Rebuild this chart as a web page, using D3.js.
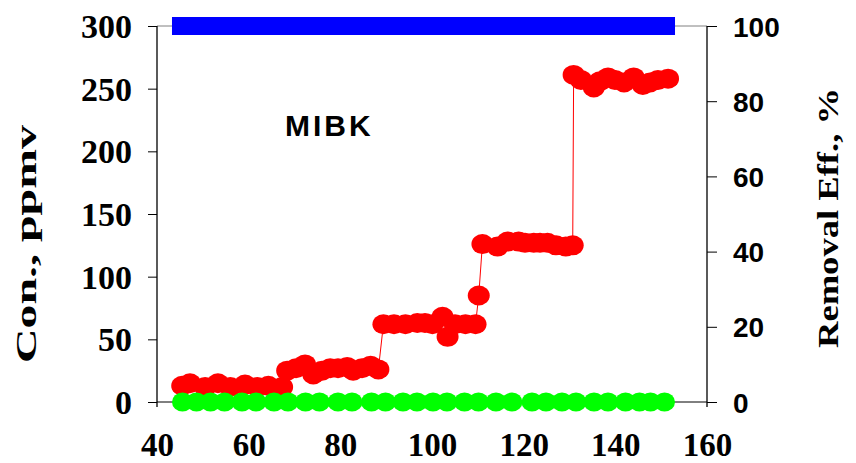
<!DOCTYPE html>
<html>
<head>
<meta charset="utf-8">
<script src="https://cdn.jsdelivr.net/npm/d3@7"></script>
<style>
  html, body { margin: 0; padding: 0; background: #fff; }
</style>
</head>
<body>
<div id="chart"></div>
<script>
// MIBK inlet / outlet concentration and removal efficiency

// inlet concentration (ppmv), red
const inletX = [45.5, 47.2, 50.5, 53.3, 56.0, 59.2, 61.9, 64.3, 67.3,
  68.4, 70.33, 72.3, 74.1, 76.0, 77.8, 79.49, 81.5, 82.8, 84.73, 86.6, 88.3,
  89.4, 91.71, 94.2, 96.8, 98.47, 100.1, 102.3, 103.4, 105.02, 107.3, 109.5, 110.2,
  111.0, 114.3, 116.5, 118.9, 120.29, 122.2, 123.56, 125.2, 127.05, 129.2, 130.7,
  130.9, 132.5, 135.3, 136.65, 138.4, 139.93, 141.9, 144.0, 146.0, 147.56, 149.3, 151.5];
const inletY = [13, 15, 12, 15, 12, 14, 12, 13, 12,
  25, 27, 30, 22, 25, 27, 27, 28, 25, 27, 29, 26,
  62, 62, 62, 63, 63, 62, 68, 52, 62, 62, 62, 85,
  126, 124, 128, 128, 127, 127, 127, 127, 125, 124, 125,
  261, 257, 251, 256, 259, 257, 255, 259, 253, 255, 257, 258];

// outlet concentration (ppmv), green
const outletX = [45.56, 48.62, 51.67, 54.73, 58.55, 61.6, 65.53, 68.58, 72.4, 75.45,
  79.49, 82.55, 86.8, 89.85, 93.67, 96.73, 100.22, 103.27, 107.09, 110.15,
  113.96, 117.45, 121.82, 124.87, 128.36, 131.42, 135.35, 138.4, 142.22, 145.27, 147.67, 150.73];
const outletY = [0, 0, 0, 0, 0, 0, 0, 0, 0, 0,
  0, 0, 0, 0, 0, 0, 0, 0, 0, 0,
  0, 0, 0, 0, 0, 0, 0, 0, 0, 0, 0, 0];

// removal efficiency (%), blue
const effX = outletX.slice();
const effY = [100, 100, 100, 100, 100, 100, 100, 100, 100, 100,
  100, 100, 100, 100, 100, 100, 100, 100, 100, 100,
  100, 100, 100, 100, 100, 100, 100, 100, 100, 100, 100, 100];

const xTicks = [40, 60, 80, 100, 120, 140, 160];
const yLeftTicks = [0, 50, 100, 150, 200, 250, 300];
const yRightTicks = [0, 20, 40, 60, 80, 100];

const serif = "'Liberation Serif', 'Times New Roman', serif";
const sans = "'Liberation Sans', Arial, sans-serif";

const W = 856, H = 463;
const margin = { top: 26, right: 149, bottom: 61, left: 157 };
const w = W - margin.left - margin.right;
const h = H - margin.top - margin.bottom;

const svg = d3.select('#chart').append('svg')
  .attr('width', W)
  .attr('height', H)
  .append('g')
  .attr('transform', `translate(${margin.left},${margin.top})`);

const x = d3.scaleLinear().domain([40, 160]).range([0, w]);
const yL = d3.scaleLinear().domain([0, 300]).range([h, 0]);
const yR = d3.scaleLinear().domain([0, 100]).range([h, 0]);

// frame
svg.append('line')
  .attr('x1', 0).attr('x2', w).attr('y1', 0).attr('y2', 0)
  .attr('stroke', '#808080').attr('stroke-width', 1);
svg.append('line')
  .attr('x1', 0).attr('x2', w).attr('y1', h).attr('y2', h)
  .attr('stroke', '#000').attr('stroke-width', 1);
svg.append('line')
  .attr('x1', 0).attr('x2', 0).attr('y1', 0).attr('y2', h + 5)
  .attr('stroke', '#000').attr('stroke-width', 1.3);
svg.append('line')
  .attr('x1', w).attr('x2', w).attr('y1', 0).attr('y2', h + 5)
  .attr('stroke', '#000').attr('stroke-width', 1.3);

// left axis
const axL = svg.append('g')
  .call(d3.axisLeft(yL).tickValues(yLeftTicks).tickSize(9).tickSizeOuter(0));
axL.select('.domain').remove();
axL.selectAll('line').attr('stroke', '#000');
axL.selectAll('text')
  .attr('x', -25)
  .attr('dy', '0.34em')
  .attr('fill', '#000')
  .style('font-family', serif)
  .style('font-weight', 'bold')
  .style('font-size', '34px');

// right axis
const axR = svg.append('g')
  .attr('transform', `translate(${w},0)`)
  .call(d3.axisRight(yR).tickValues(yRightTicks).tickSize(10).tickSizeOuter(0));
axR.select('.domain').remove();
axR.selectAll('line').attr('stroke', '#000');
axR.selectAll('text')
  .attr('x', 26)
  .attr('dy', '0.36em')
  .attr('fill', '#000')
  .style('font-family', sans)
  .style('font-weight', 'bold')
  .style('font-size', '28px');

// bottom axis (labels only)
const axB = svg.append('g')
  .attr('transform', `translate(0,${h})`)
  .call(d3.axisBottom(x).tickValues(xTicks).tickSize(0).tickSizeOuter(0));
axB.select('.domain').remove();
axB.selectAll('text')
  .attr('y', 54)
  .attr('dy', 0)
  .attr('fill', '#000')
  .style('font-family', serif)
  .style('font-weight', 'bold')
  .style('font-size', '33px');

// inlet line + markers
const inlet = inletX.map((d, i) => ({ x: d, y: inletY[i] }));
svg.append('path')
  .datum(inlet)
  .attr('d', d3.line().x(d => x(d.x)).y(d => yL(d.y)))
  .attr('fill', 'none')
  .attr('stroke', '#FF0000')
  .attr('stroke-width', 1);
svg.append('g')
  .selectAll('ellipse')
  .data(inlet)
  .join('ellipse')
  .attr('cx', d => x(d.x))
  .attr('cy', d => yL(d.y))
  .attr('rx', 11)
  .attr('ry', 10)
  .attr('fill', '#FF0000');

// outlet markers
const outlet = outletX.map((d, i) => ({ x: d, y: outletY[i] }));
svg.append('g')
  .selectAll('ellipse')
  .data(outlet)
  .join('ellipse')
  .attr('cx', d => x(d.x))
  .attr('cy', d => yL(d.y))
  .attr('rx', 10.5)
  .attr('ry', 9.5)
  .attr('fill', '#00FF00');

// removal efficiency markers
const eff = effX.map((d, i) => ({ x: d, y: effY[i] }));
svg.append('g')
  .selectAll('rect')
  .data(eff)
  .join('rect')
  .attr('x', d => x(d.x) - 10.5)
  .attr('y', d => yR(d.y) - 9)
  .attr('width', 21)
  .attr('height', 18)
  .attr('fill', '#0000FF');

// label
svg.append('text')
  .attr('x', 128).attr('y', 110)
  .attr('fill', '#000')
  .style('font-family', sans)
  .style('font-weight', 'bold')
  .style('font-size', '30px')
  .style('letter-spacing', '3px')
  .text('MIBK');

// axis titles
svg.append('text')
  .attr('transform', `translate(${36 - margin.left},${244 - margin.top}) rotate(-90)`)
  .attr('text-anchor', 'middle')
  .attr('textLength', 238)
  .attr('lengthAdjust', 'spacingAndGlyphs')
  .attr('fill', '#000')
  .style('font-family', serif)
  .style('font-weight', 'bold')
  .style('font-size', '30px')
  .text('Con., ppmv');

svg.append('text')
  .attr('transform', `translate(${838 - margin.left},${218 - margin.top}) rotate(-90)`)
  .attr('text-anchor', 'middle')
  .attr('textLength', 260)
  .attr('lengthAdjust', 'spacingAndGlyphs')
  .attr('fill', '#000')
  .style('font-family', serif)
  .style('font-weight', 'bold')
  .style('font-size', '30px')
  .text('Removal Eff., %');
</script>
</body>
</html>
